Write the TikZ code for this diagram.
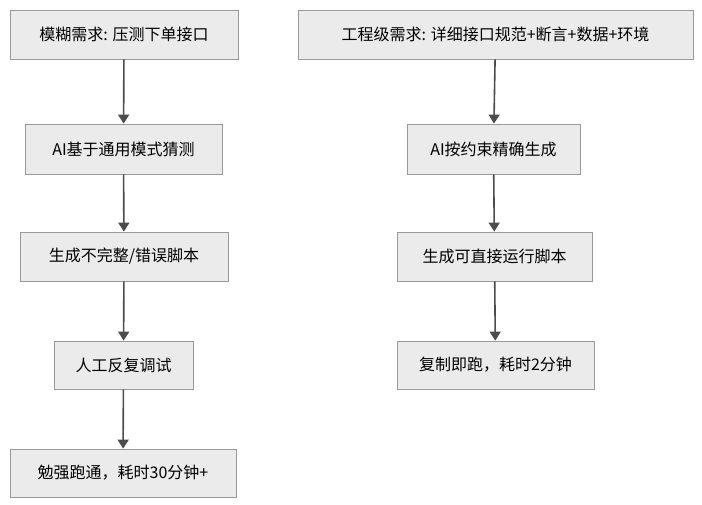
\documentclass[tikz,border=0pt]{standalone}
\usepackage{fontspec}
\setmainfont{Noto Sans CJK SC}
\usetikzlibrary{arrows.meta}
\begin{document}
\begin{tikzpicture}[x=1pt,y=-1pt,
 box/.style={draw=black!40,fill=black!8,line width=0.8pt,inner sep=0pt,font=\fontsize{16}{18}\selectfont},
 arr/.style={draw=black!70,line width=1.6pt,-{Triangle[length=9pt,width=11pt]}}]
\useasboundingbox (0,0) rectangle (702,504);
\newcommand\bx[6]{\node[box,minimum width=#4-#2,minimum height=#5-#3] (#1) at ({(#2+#4)/2},{(#3+#5)/2}) {#6};}
\bx{a1}{10}{10}{238}{59}{模糊需求: 压测下单接口}
\bx{a2}{25}{124}{222}{174}{AI基于通用模式猜测}
\bx{a3}{20}{232}{228}{281}{生成不完整/错误脚本}
\bx{a4}{54}{341}{193}{389}{人工反复调试}
\bx{a5}{10}{449}{236}{497}{勉强跑通，耗时30分钟+}
\bx{b1}{298}{10}{693}{59}{工程级需求: 详细接口规范+断言+数据+环境}
\bx{b2}{407}{124}{580}{174}{AI按约束精确生成}
\bx{b3}{397}{232}{592}{281}{生成可直接运行脚本}
\bx{b4}{397}{341}{594}{389}{复制即跑，耗时2分钟}
\draw[arr] (a1) -- (a2);
\draw[arr] (a2) -- (a3);
\draw[arr] (a3) -- (a4);
\draw[arr] (a4) -- (a5);
\draw[arr] (b1) -- (b2);
\draw[arr] (b2) -- (b3);
\draw[arr] (b3) -- (b4);
\end{tikzpicture}
\end{document}
